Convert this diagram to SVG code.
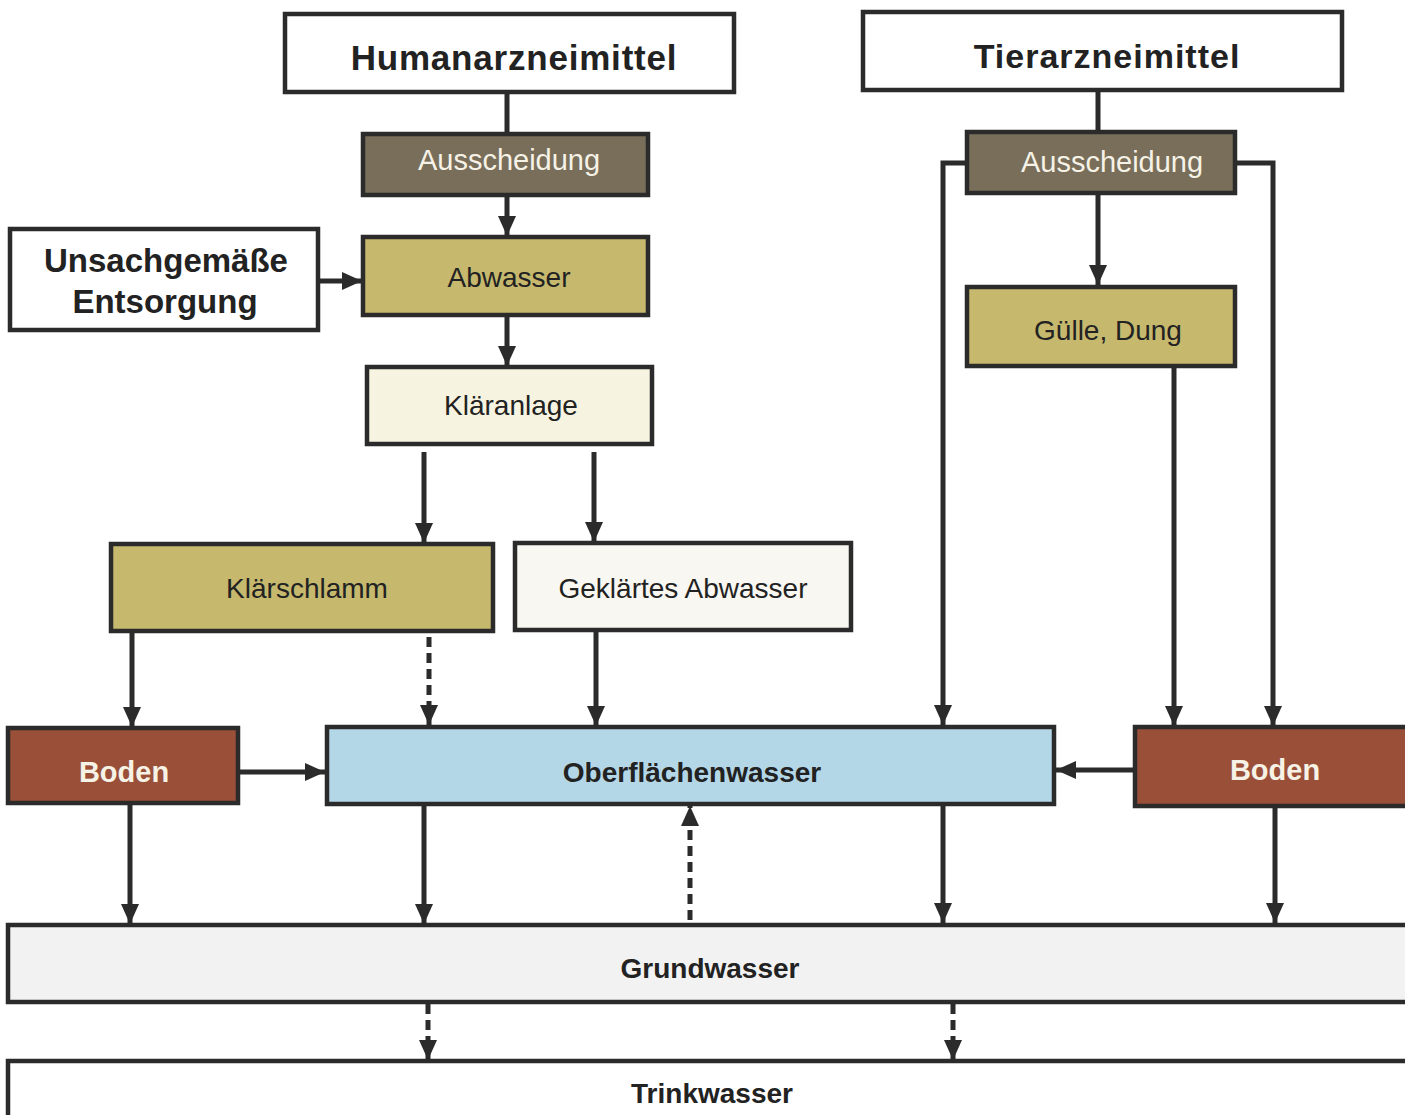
<svg xmlns="http://www.w3.org/2000/svg" width="1405" height="1115" viewBox="0 0 1405 1115">
<defs>
<marker id="ah" markerUnits="userSpaceOnUse" markerWidth="20" markerHeight="20" refX="20" refY="9" orient="auto">
<path d="M0,0 L20,9 L0,18 Z" fill="#2b2b2b"/>
</marker>
<style>
.box{stroke:#2b2b2b;stroke-width:4.5}
.w{fill:#ffffff}
.dk{fill:#786e5a}
.ol{fill:#c6b96e}
.lt{fill:#f6f4e1}
.lw{fill:#f8f7f1}
.bd{fill:#9a4f38}
.bl{fill:#b3d7e7}
.gw{fill:#f2f2f2}
.t{font-family:"Liberation Sans",Arial,sans-serif;text-anchor:middle;fill:#222}
.b{font-weight:bold}
.r{font-size:28px}
.wt{fill:#f6f2e6}
.c{fill:none;stroke:#2b2b2b;stroke-width:5}
.d{stroke-dasharray:10,6}
</style>
</defs>
<rect width="1405" height="1115" fill="#ffffff"/>

<g id="connectors">
<line class="c" x1="507" y1="92" x2="507" y2="134"/>
<line class="c" x1="507" y1="195" x2="507" y2="236" marker-end="url(#ah)"/>
<line class="c" x1="318" y1="281" x2="362" y2="281" marker-end="url(#ah)"/>
<line class="c" x1="507" y1="315" x2="507" y2="366" marker-end="url(#ah)"/>
<line class="c" x1="424" y1="452" x2="424" y2="543" marker-end="url(#ah)"/>
<line class="c" x1="594" y1="452" x2="594" y2="542" marker-end="url(#ah)"/>
<line class="c" x1="132" y1="631" x2="132" y2="727" marker-end="url(#ah)"/>
<line class="c d" x1="429" y1="637" x2="429" y2="725" marker-end="url(#ah)"/>
<line class="c" x1="596" y1="630" x2="596" y2="726" marker-end="url(#ah)"/>
<line class="c" x1="238" y1="772" x2="325" y2="772" marker-end="url(#ah)"/>
<line class="c" x1="1135" y1="770" x2="1056" y2="770" marker-end="url(#ah)"/>
<line class="c" x1="1098" y1="90" x2="1098" y2="132"/>
<line class="c" x1="1098" y1="193" x2="1098" y2="285" marker-end="url(#ah)"/>
<polyline class="c" points="967,163 943,163 943,725" marker-end="url(#ah)"/>
<polyline class="c" points="1235,163 1273,163 1273,726" marker-end="url(#ah)"/>
<line class="c" x1="1174" y1="366" x2="1174" y2="726" marker-end="url(#ah)"/>
<line class="c" x1="130" y1="803" x2="130" y2="924" marker-end="url(#ah)"/>
<line class="c" x1="424" y1="804" x2="424" y2="924" marker-end="url(#ah)"/>
<line class="c d" x1="690" y1="920" x2="690" y2="806" marker-end="url(#ah)"/>
<line class="c" x1="943" y1="804" x2="943" y2="923" marker-end="url(#ah)"/>
<line class="c" x1="1275" y1="806" x2="1275" y2="923" marker-end="url(#ah)"/>
<line class="c d" x1="428" y1="1004" x2="428" y2="1060" marker-end="url(#ah)"/>
<line class="c d" x1="953" y1="1004" x2="953" y2="1060" marker-end="url(#ah)"/>
</g>

<g id="humanarzneimittel">
<rect class="box w" x="285" y="14" width="449" height="78"/>
<text class="t b" x="514" y="70" font-size="35" letter-spacing="0.8">Humanarzneimittel</text>
</g>
<g id="tierarzneimittel">
<rect class="box w" x="863" y="12" width="479" height="78"/>
<text class="t b" x="1107" y="68" font-size="34" letter-spacing="1">Tierarzneimittel</text>
</g>
<g id="ausscheidung-h">
<rect class="box dk" x="363" y="134" width="285" height="61"/>
<text class="t wt" x="509" y="170" font-size="29">Ausscheidung</text>
</g>
<g id="ausscheidung-t">
<rect class="box dk" x="967" y="132" width="268" height="61"/>
<text class="t wt" x="1112" y="172" font-size="29">Ausscheidung</text>
</g>
<g id="entsorgung">
<rect class="box w" x="10" y="229" width="308" height="101"/>
<text class="t b" x="166" y="272" font-size="33">Unsachgemäße</text>
<text class="t b" x="165" y="313" font-size="33">Entsorgung</text>
</g>
<g id="abwasser">
<rect class="box ol" x="363" y="237" width="285" height="78"/>
<text class="t r" x="509" y="287">Abwasser</text>
</g>
<g id="klaeranlage">
<rect class="box lt" x="367" y="367" width="285" height="77"/>
<text class="t r" x="511" y="415">Kläranlage</text>
</g>
<g id="klaerschlamm">
<rect class="box ol" x="111" y="544" width="382" height="87"/>
<text class="t r" x="307" y="598">Klärschlamm</text>
</g>
<g id="geklaertes-abwasser">
<rect class="box lw" x="515" y="543" width="336" height="87"/>
<text class="t r" x="683" y="598">Geklärtes Abwasser</text>
</g>
<g id="guelle">
<rect class="box ol" x="967" y="287" width="268" height="79"/>
<text class="t r" x="1108" y="340">Gülle, Dung</text>
</g>
<g id="boden-l">
<rect class="box bd" x="8" y="728" width="230" height="75"/>
<text class="t b wt" x="124" y="782" font-size="29">Boden</text>
</g>
<g id="oberflaechenwasser">
<rect class="box bl" x="327" y="727" width="727" height="77"/>
<text class="t b" x="692" y="782" font-size="28">Oberflächenwasser</text>
</g>
<g id="boden-r">
<rect class="box bd" x="1135" y="727" width="275" height="79"/>
<text class="t b wt" x="1275" y="780" font-size="29">Boden</text>
</g>
<g id="grundwasser">
<rect class="box gw" x="8" y="925" width="1402" height="77"/>
<text class="t b" x="710" y="978" font-size="28">Grundwasser</text>
</g>
<g id="trinkwasser">
<rect class="box w" x="8" y="1061" width="1402" height="70"/>
<text class="t b" x="712" y="1103" font-size="28">Trinkwasser</text>
</g>
</svg>
